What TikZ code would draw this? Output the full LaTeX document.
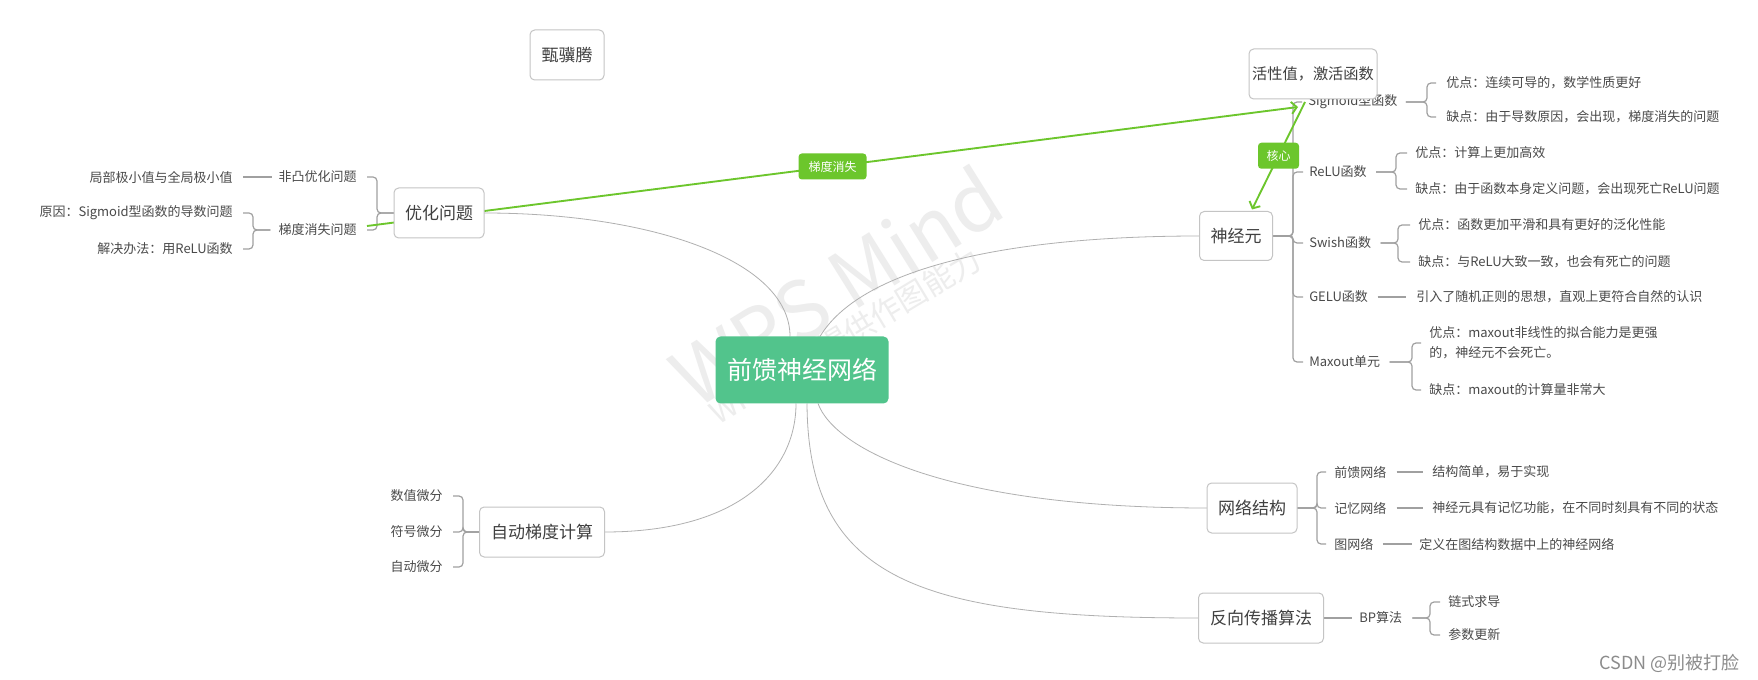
\documentclass[tikz,border=0pt]{standalone}
\usepackage{fontspec}
\setmainfont{Noto Sans CJK SC}
\usetikzlibrary{arrows.meta,calc,backgrounds}
\definecolor{txt}{HTML}{404040}
\definecolor{stxt}{HTML}{4A4A4A}
\definecolor{bord}{HTML}{C4C4C4}
\definecolor{cgreen}{HTML}{52C48C}
\definecolor{lgreen}{HTML}{6CC62C}
\definecolor{lnk}{HTML}{B0B0B0}
\definecolor{brk}{HTML}{A0A0A0}
\definecolor{wm}{HTML}{EDEDED}
\definecolor{csdn}{HTML}{8C8C8C}
\newcommand{\fsz}[2]{\fontsize{#1}{#2}\selectfont}
\newcommand{\mmR}[4]{\draw[br] (#1) -- (#1 -| #2) -- (#3.west -| #2) -- ([xshift=-#4]#3.west);}
\newcommand{\mmL}[4]{\draw[br] (#1) -- (#1 -| #2) -- (#3.east -| #2) -- ([xshift=#4]#3.east);}
\begin{document}
\begin{tikzpicture}[x=0.75pt,y=-0.75pt,
  topic/.style={draw=bord, line width=0.75pt, fill=white, rounded corners=3.5pt, text=txt,
    font=\fsz{12.75pt}{15pt}, inner sep=0pt, outer sep=0pt, minimum height=37.5pt},
  root/.style={fill=cgreen, rounded corners=3.75pt, text=white, font=\fsz{18.75pt}{22pt},
    inner sep=0pt, outer sep=0pt, minimum width=129.75pt, minimum height=50.25pt},
  lt/.style={text=stxt, font=\fsz{9.75pt}{15pt}, inner sep=0pt, anchor=west},
  rt/.style={text=stxt, font=\fsz{9.75pt}{15pt}, inner sep=0pt, anchor=east},
  br/.style={draw=brk, line width=0.9pt, rounded corners=3pt},
  ln/.style={draw=lnk, line width=0.6pt},
  garrow/.style={draw=lgreen, line width=1.4pt, -{Straight Barb[length=4pt,width=9pt]}},
  lbl/.style={fill=lgreen, rounded corners=2.5pt, text=white, font=\fsz{9pt}{11pt},
    inner sep=0pt, minimum height=19.5pt},
  wmk/.style={text=wm, inner sep=0pt}
]
\begin{pgfonlayer}{background}
\fill[white] (0,0) rectangle (1758,680);
\useasboundingbox (0,0) rectangle (1758,680);
\node[wmk, rotate=32, font=\fsz{60pt}{70pt}] (wm1) at (836,286) {WPS Mind};
\node[wmk, rotate=31, font=\fsz{23pt}{28pt}] (wm2) at (845,336) {WPS为您提供作图能力};
\end{pgfonlayer}

% main topics
\node[topic, minimum width=55.5pt] (zhen) at (567,55) {甄骥腾};
\node[topic, minimum width=67.5pt] (yh) at (439,213) {优化问题};
\node[topic, minimum width=93.75pt] (zd) at (542,532) {自动梯度计算};
\node[root] (c) at (802,370) {前馈神经网络};
\node[lt] (sig) at (1308,102) {Sigmoid型函数};
\node[topic, minimum width=96pt, font=\fsz{11.4pt}{14pt}] (act) at (1313,74) {活性值，激活函数};
\node[topic, minimum width=54.75pt, minimum height=36.75pt] (neu) at (1236,236) {神经元};
\node[topic, minimum width=67.5pt] (wl) at (1252,508) {网络结构};
\node[topic, minimum width=93.75pt] (fx) at (1261,618) {反向传播算法};

% left texts
\node[rt] (fei) at (357,177) {非凸优化问题};
\node[rt] (jubu) at (233,177) {局部极小值与全局极小值};
\node[rt] (td) at (357,230) {梯度消失问题};
\node[rt] (yy) at (233,213) {原因：Sigmoid型函数的导数问题};
\node[rt] (jj) at (233,249) {解决办法：用ReLU函数};
\node[rt] (sz) at (443,496) {数值微分};
\node[rt] (fh) at (443,532) {符号微分};
\node[rt] (zw) at (443,567) {自动微分};

% right texts
\node[lt] (sigA) at (1446,83) {优点：连续可导的，数学性质更好};
\node[lt] (sigB) at (1446,117) {缺点：由于导数原因，会出现，梯度消失的问题};
\node[lt] (relu) at (1309,172) {ReLU函数};
\node[lt] (reluA) at (1415,153) {优点：计算上更加高效};
\node[lt] (reluB) at (1415,189) {缺点：由于函数本身定义问题，会出现死亡ReLU问题};
\node[lt] (sw) at (1309,243) {Swish函数};
\node[lt] (swA) at (1418,225) {优点：函数更加平滑和具有更好的泛化性能};
\node[lt] (swB) at (1418,262) {缺点：与ReLU大致一致，也会有死亡的问题};
\node[lt] (ge) at (1309,297) {GELU函数};
\node[lt] (geA) at (1416,297) {引入了随机正则的思想，直观上更符合自然的认识};
\node[lt] (mx) at (1309,362) {Maxout单元};
\node[lt, align=left] (mxA) at (1429,343) {优点：maxout非线性的拟合能力是更强\\的，神经元不会死亡。};
\node[lt] (mxB) at (1429,390) {缺点：maxout的计算量非常大};
\node[lt] (qk) at (1334,472) {前馈网络};
\node[lt] (qkA) at (1432,472) {结构简单，易于实现};
\node[lt] (jy) at (1334,508) {记忆网络};
\node[lt] (jyA) at (1432,508) {神经元具有记忆功能，在不同时刻具有不同的状态};
\node[lt] (tw) at (1334,544) {图网络};
\node[lt] (twA) at (1419,544) {定义在图结构数据中上的神经网络};
\node[lt] (bp) at (1359,618) {BP算法};
\node[lt] (bpA) at (1448,602) {链式求导};
\node[lt] (bpB) at (1448,635) {参数更新};

\node[anchor=east, inner sep=0pt, text=csdn, font=\fsz{13.5pt}{16pt}] (csdn) at (1740,663) {CSDN @别被打脸};

% bracket x positions and parent points
\coordinate (bN) at (1293,0);
\coordinate (bS) at (1427,0);
\coordinate (bR) at (1396,0);
\coordinate (bSw) at (1398,0);
\coordinate (bM) at (1412,0);
\coordinate (bW) at (1317,0);
\coordinate (bB) at (1430,0);
\coordinate (bY) at (377,0);
\coordinate (bT) at (253,0);
\coordinate (bZ) at (463,0);
\coordinate (neuE) at (neu.east);
\coordinate (sigE) at ([xshift=6pt]sig.east);
\coordinate (reluE) at ([xshift=7pt]relu.east);
\coordinate (swE) at ([xshift=7pt]sw.east);
\coordinate (mxE) at ([xshift=7pt]mx.east);
\coordinate (wlE) at (wl.east);
\coordinate (bpE) at ([xshift=7.5pt]bp.east);
\coordinate (yhW) at (yh.west);
\coordinate (tdW) at ([xshift=-6pt]td.west);
\coordinate (zdW) at (zd.west);
\coordinate (g1) at ([xshift=7.5pt,yshift=3pt]td.east);
\coordinate (g2) at ([xshift=-7.5pt,yshift=-3.75pt]sig.west);

\begin{pgfonlayer}{background}
% curves from root
\draw[ln] (yh.east) .. controls (650,213) and (790,260) .. ([xshift=-9pt]c.north);
\draw[ln] ([xshift=13.5pt]c.north) .. controls (860,270) and (1000,236) .. (neu.west);
\draw[ln] ([xshift=-4.5pt]c.south) .. controls (796,470) and (740,532) .. (zd.east);
\draw[ln] ([xshift=12pt]c.south) .. controls (835,450) and (950,508) .. (wl.west);
\draw[ln] ([xshift=3.75pt]c.south) .. controls (808,580) and (920,618) .. (fx.west);
% right brackets
\mmR{neuE}{bN}{sig}{4.5pt}
\mmR{neuE}{bN}{relu}{4.5pt}
\mmR{neuE}{bN}{sw}{4.5pt}
\mmR{neuE}{bN}{ge}{4.5pt}
\mmR{neuE}{bN}{mx}{4.5pt}
\mmR{sigE}{bS}{sigA}{7.5pt}
\mmR{sigE}{bS}{sigB}{7.5pt}
\mmR{reluE}{bR}{reluA}{6pt}
\mmR{reluE}{bR}{reluB}{6pt}
\mmR{swE}{bSw}{swA}{6pt}
\mmR{swE}{bSw}{swB}{6pt}
\mmR{mxE}{bM}{mxA}{6pt}
\mmR{mxE}{bM}{mxB}{6pt}
\draw[br] ([xshift=7pt]ge.east) -- ([xshift=-7.5pt]geA.west);
\mmR{wlE}{bW}{qk}{6pt}
\mmR{wlE}{bW}{jy}{6pt}
\mmR{wlE}{bW}{tw}{6pt}
\draw[br] ([xshift=7.5pt]qk.east) -- ([xshift=-7pt]qkA.west);
\draw[br] ([xshift=7.5pt]jy.east) -- ([xshift=-7pt]jyA.west);
\draw[br] ([xshift=7pt]tw.east) -- ([xshift=-5pt]twA.west);
\draw[br] (fx.east) -- ([xshift=-5pt]bp.west);
\mmR{bpE}{bB}{bpA}{6pt}
\mmR{bpE}{bB}{bpB}{6pt}
% left brackets
\mmL{yhW}{bY}{fei}{7.5pt}
\mmL{yhW}{bY}{td}{7.5pt}
\draw[br] ([xshift=-5pt]fei.west) -- ([xshift=7.5pt]jubu.east);
\mmL{tdW}{bT}{yy}{7.5pt}
\mmL{tdW}{bT}{jj}{7.5pt}
\mmL{zdW}{bZ}{sz}{7.5pt}
\mmL{zdW}{bZ}{fh}{7.5pt}
\mmL{zdW}{bZ}{zw}{7.5pt}
% green relations
\draw[garrow] (g1) -- node[lbl, minimum width=51pt] (lb1) {梯度消失} (g2);
\draw[garrow] ([xshift=-6pt,yshift=-2.25pt]act.south) -- node[lbl, minimum width=30.75pt] (lb2) {核心} ([xshift=12pt,yshift=1.5pt]neu.north);
\end{pgfonlayer}
\end{tikzpicture}
\end{document}
